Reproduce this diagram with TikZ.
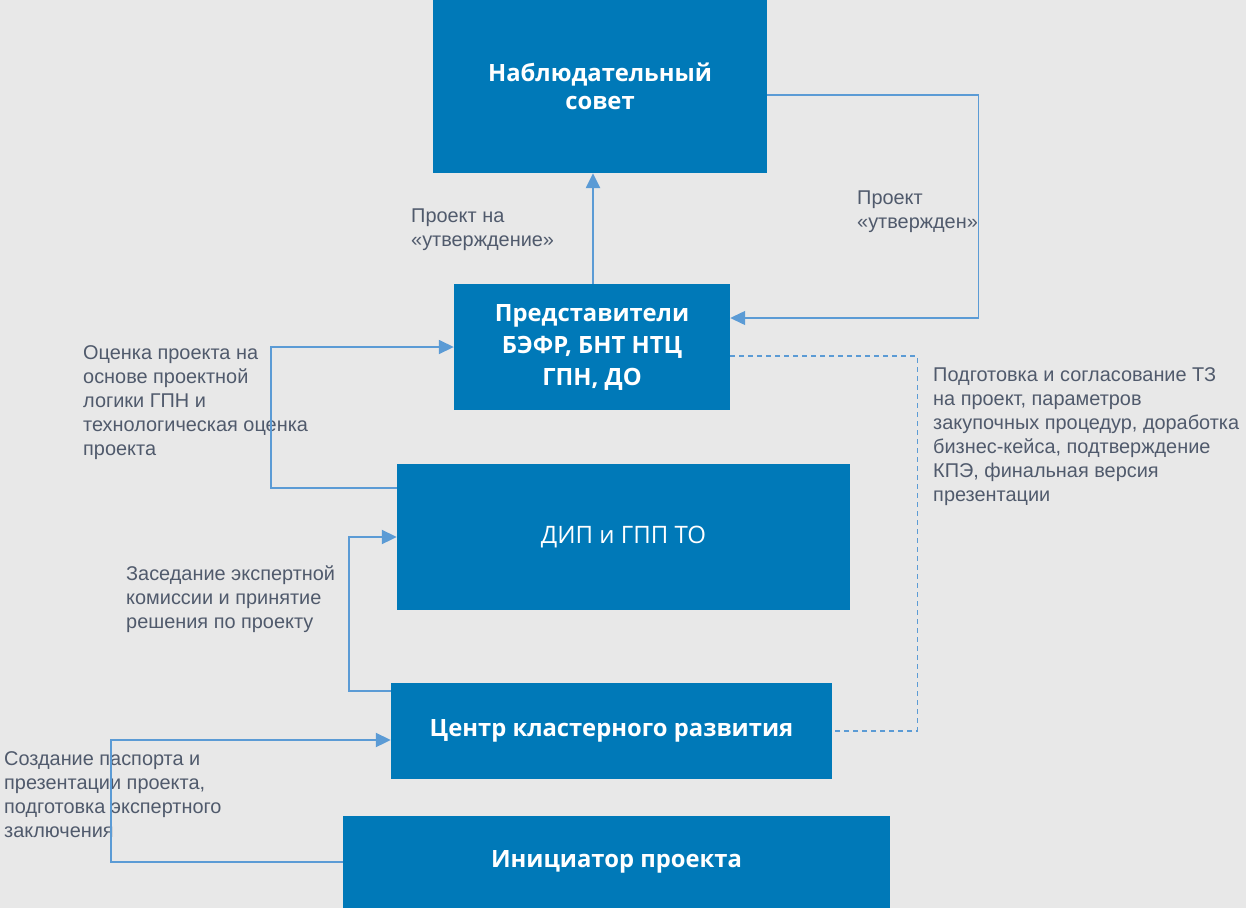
\documentclass[tikz,border=0pt]{standalone}
\usepackage{fontspec}
\setmainfont{Liberation Sans}
\newfontfamily\boxfont{Open Sans}
\usetikzlibrary{arrows.meta}
\definecolor{bgc}{RGB}{232,232,232}
\definecolor{boxc}{RGB}{0,121,184}
\definecolor{linec}{RGB}{91,155,213}
\definecolor{txtc}{RGB}{80,90,108}
\tikzset{
  box/.style={fill=boxc, draw=none, inner sep=0pt, align=center, text=white, font=\boxfont\bfseries\fontsize{23.8}{28}\selectfont},
  lbl/.style={inner sep=0pt, anchor=west, align=left, text=txtc, font=\fontsize{19.9}{24}\selectfont},
  conn/.style={draw=linec, line width=2pt},
  thinconn/.style={draw=linec, line width=1.3pt},
  arr/.style={-{Triangle[length=15pt,width=14pt]}},
  dconn/.style={draw=linec, line width=1.2pt, dash pattern=on 5pt off 4pt}
}
\begin{document}
\begin{tikzpicture}[x=1pt,y=-1pt]
\fill[bgc] (0,0) rectangle (1246,908);
\useasboundingbox (0,0) rectangle (1246,908);
\node[box, minimum width=334pt, minimum height=173pt] (nab) at (600,86.5) {Наблюдательный\\совет};
\node[box, minimum width=276pt, minimum height=126pt, font=\boxfont\bfseries\fontsize{23.8}{32}\selectfont] (pred) at (592,347) {Представители\\БЭФР, БНТ НТЦ\\ГПН, ДО};
\node[box, minimum width=453pt, minimum height=146pt, font=\boxfont\fontsize{24}{30}\selectfont] (dip) at (623.5,537) {ДИП и ГПП ТО};
\node[box, minimum width=441pt, minimum height=96pt] (ckr) at (611.5,731) {Центр кластерного развития};
\node[box, minimum width=547pt, minimum height=92pt] (ini) at (616.5,862) {Инициатор проекта};

\node[lbl] (l1) at (411,230) {Проект на\\«утверждение»};
\node[lbl] (l2) at (857,212) {Проект\\«утвержден»};
\node[lbl] (l3) at (83,403) {Оценка проекта на\\основе проектной\\логики ГПН и\\технологическая оценка\\проекта};
\node[lbl] (l4) at (933,437) {Подготовка и согласование ТЗ\\на проект, параметров\\закупочных процедур, доработка\\бизнес-кейса, подтверждение\\КПЭ, финальная версия\\презентации};
\node[lbl] (l5) at (126,599) {Заседание экспертной\\комиссии и принятие\\решения по проекту};
\node[lbl] (l6) at (4,795) {Создание паспорта и\\презентации проекта,\\подготовка экспертного\\заключения};

\draw[conn, line width=2.5pt, arr] ([xshift=1pt]pred.north) -- ([xshift=1pt]pred.north |- nab.south);
\draw[thinconn, arr] ([yshift=-8.5pt]nab.east) -- ++(211,0) |- ([yshift=29pt]pred.east);
\draw[thinconn, line width=1.6pt, arr] ([yshift=49pt]dip.west) -- ++(-126,0) |- (pred.west);
\draw[conn, arr] ([yshift=40pt]ckr.west) -- ++(-42,0) |- (dip.west);
\draw[conn, arr] (ini.west) -- ++(-232,0) |- ([yshift=-9pt]ckr.west);
\draw[dconn] ([yshift=-9pt]pred.east) -- ++(187,0) |- (ckr.east);
\end{tikzpicture}
\end{document}
